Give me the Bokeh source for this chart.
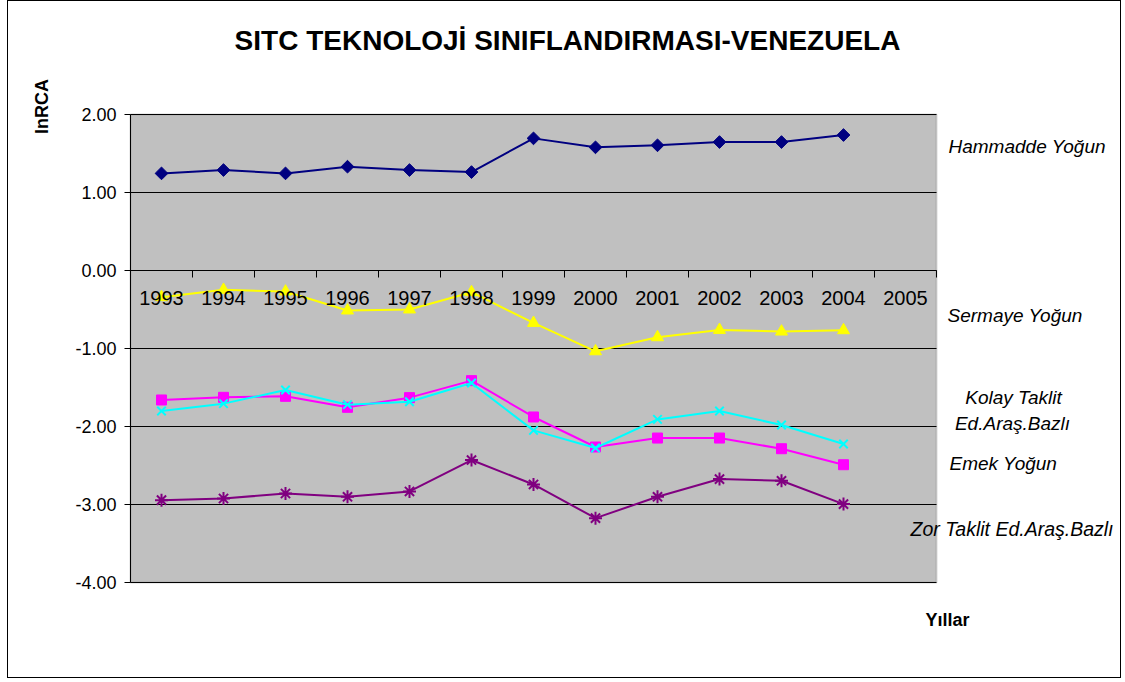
import math
from bokeh.plotting import figure
from bokeh.models import (Range1d, LinearAxis, FixedTicker, NumeralTickFormatter,
                          Label, BoxAnnotation)
from bokeh.embed import file_html
from bokeh.resources import INLINE

# ---- data ----
years = ["1993", "1994", "1995", "1996", "1997", "1998", "1999",
         "2000", "2001", "2002", "2003", "2004", "2005"]
hammadde = [1.245, 1.288, 1.245, 1.331, 1.288, 1.262, 1.694, 1.579, 1.605, 1.647, 1.647, 1.737]
sermaye = [-0.342, -0.248, -0.270, -0.513, -0.500, -0.278, -0.672, -1.036, -0.856, -0.762, -0.783, -0.766]
emek = [-1.660, -1.626, -1.613, -1.754, -1.630, -1.412, -1.878, -2.263, -2.148, -2.148, -2.285, -2.490]
kolay = [-1.801, -1.707, -1.532, -1.720, -1.682, -1.442, -2.050, -2.276, -1.909, -1.801, -1.981, -2.225]
zor = [-2.944, -2.923, -2.859, -2.901, -2.833, -2.430, -2.743, -3.175, -2.901, -2.674, -2.696, -2.995]
y_ticks = [-4, -3, -2, -1, 0, 1, 2]
Y_MIN, Y_MAX = -4, 2

FONT = "Liberation Sans"
n_cat = len(years)

# ---- layout (pixels in page coordinates) ----
W, H = 1114, 678            # canvas size
CAN_L, CAN_T = 8, 1         # canvas origin on page
PA_L, PA_R, PA_T, PA_B = 130, 936, 114, 582   # grey plot area
PX_X = (PA_R - PA_L) / n_cat
PX_Y = (PA_B - PA_T) / (Y_MAX - Y_MIN)

x_start = (CAN_L - PA_L) / PX_X
x_end = (CAN_L + W - PA_L) / PX_X
y_end = Y_MAX + (PA_T - CAN_T) / PX_Y
y_start = Y_MIN - (CAN_T + H - PA_B) / PX_Y

p = figure(width=W, height=H,
           x_range=Range1d(x_start, x_end), y_range=Range1d(y_start, y_end),
           output_backend="svg", toolbar_location=None,
           x_axis_location=None, y_axis_location=None, min_border=0)
p.styles = {"border": "1px solid black", "margin-left": "7px"}
p.background_fill_color = "white"
p.border_fill_color = "white"
p.outline_line_color = None
p.grid.visible = False

# grey plot area
p.add_layout(BoxAnnotation(left=0, right=n_cat, bottom=Y_MIN, top=Y_MAX,
                           fill_color="#C0C0C0", fill_alpha=1.0,
                           line_color="#808080", line_width=2, level="underlay"))

# horizontal grid lines
p.segment(x0=[0] * len(y_ticks), x1=[n_cat] * len(y_ticks), y0=y_ticks, y1=y_ticks,
          line_color="black", line_width=1)

yax = LinearAxis(fixed_location=0, bounds=(Y_MIN, Y_MAX),
                 ticker=FixedTicker(ticks=y_ticks),
                 formatter=NumeralTickFormatter(format="0.00"),
                 major_tick_out=6, major_tick_in=0,
                 minor_tick_line_color=None,
                 axis_line_color="black", major_tick_line_color="black",
                 major_label_standoff=8,
                 major_label_text_font=FONT, major_label_text_font_size="18px",
                 major_label_text_color="black")
p.add_layout(yax, "left")

# tick marks at category boundaries on the zero line
tax = LinearAxis(fixed_location=0, bounds=(0, n_cat),
                 ticker=FixedTicker(ticks=list(range(1, n_cat + 1))),
                 major_tick_out=7, major_tick_in=0,
                 minor_tick_line_color=None,
                 axis_line_color="black", major_tick_line_color="black",
                 major_label_text_color=None, major_label_text_font_size="1px")
p.add_layout(tax, "below")

# category labels under the zero line
centers = [i + 0.5 for i in range(n_cat)]
lax = LinearAxis(fixed_location=0, bounds=(0, n_cat),
                 ticker=FixedTicker(ticks=centers),
                 major_label_overrides={c: y for c, y in zip(centers, years)},
                 major_tick_in=0, major_tick_out=0,
                 minor_tick_line_color=None, axis_line_color=None,
                 major_label_standoff=20,
                 major_label_text_font=FONT, major_label_text_font_size="20px",
                 major_label_text_color="black")
p.add_layout(lax, "below")

xs = centers[:len(hammadde)]
series = [
    (hammadde, "#000080", "square", 9, math.pi / 4),
    (sermaye, "#FFFF00", "triangle", 12, 0.0),
    (emek, "#FF00FF", "square", 10, 0.0),
    (kolay, "#00FFFF", "x", 12, 0.0),
    (zor, "#800080", "asterisk", 13, 0.0),
]
for vals, col, mk, sz, ang in series:
    p.line(xs, vals, line_color=col, line_width=2)
    if mk in ("x", "asterisk"):
        p.scatter(xs, vals, marker=mk, size=sz, line_color=col, line_width=2)
    else:
        p.scatter(xs, vals, marker=mk, size=sz, angle=ang, fill_color=col, line_color=col)


def add_label(text, px, py, size, style="normal", align="left", angle=0.0):
    p.add_layout(Label(x=(px - PA_L) / PX_X, y=Y_MAX - (py - PA_T) / PX_Y,
                       text=text, text_font=FONT, text_font_size=size,
                       text_font_style=style, text_align=align,
                       text_baseline="middle", angle=angle, text_color="black"))


add_label("SITC TEKNOLOJİ SINIFLANDIRMASI-VENEZUELA", 567, 40, "28px", "bold", "center")
add_label("lnRCA", 41, 106, "18px", "bold", "center", math.pi / 2)
add_label("Yıllar", 947, 619, "18px", "bold", "center")
add_label("Hammadde Yoğun", 948, 146, "19px", "italic")
add_label("Sermaye Yoğun", 947, 315, "19px", "italic")
add_label("Kolay Taklit", 1013, 397, "19px", "italic", "center")
add_label("Ed.Araş.Bazlı", 1012, 423, "19px", "italic", "center")
add_label("Emek Yoğun", 949, 463, "19px", "italic")
add_label("Zor Taklit Ed.Araş.Bazlı", 910, 528, "19.5px", "italic")

open("out.html", "w").write(file_html(p, INLINE))
